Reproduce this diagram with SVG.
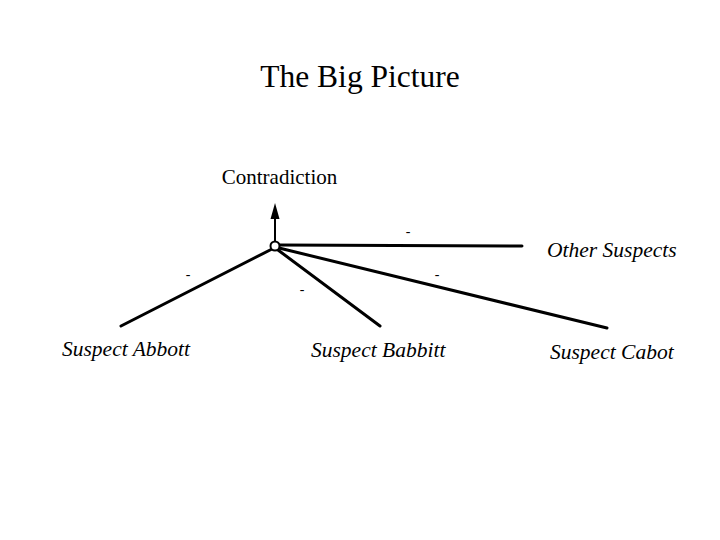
<svg xmlns="http://www.w3.org/2000/svg" width="720" height="540" viewBox="0 0 720 540">
<style>
.t{font-family:"Liberation Serif","Times New Roman",serif;fill:#000}
.lbl{font-family:"Liberation Serif","Times New Roman",serif;font-style:italic;font-size:21.5px;fill:#000}
.e{stroke:#000;stroke-width:3;fill:none;stroke-linecap:round}
.m{font-family:"Liberation Serif",serif;font-size:14px;fill:#000}
</style>
<rect width="720" height="540" fill="#fff"/>
<text class="t" x="360" y="87" font-size="31.5" text-anchor="middle">The Big Picture</text>
<g id="connectors">
<line class="e" x1="279" y1="245" x2="522" y2="246"/>
<line class="e" x1="272" y1="249" x2="121" y2="326"/>
<line class="e" x1="278" y1="250" x2="380" y2="326"/>
<line class="e" x1="279" y1="248" x2="607" y2="328"/>
<line stroke="#000" stroke-width="2" x1="275" y1="242" x2="275" y2="218"/>
<path d="M270.5,219 L275,203 L279.5,219 Z" fill="#000"/>
<text class="m" x="408" y="236" text-anchor="middle">-</text>
<text class="m" x="188" y="279" text-anchor="middle">-</text>
<text class="m" x="302" y="294" text-anchor="middle">-</text>
<text class="m" x="437" y="279" text-anchor="middle">-</text>
</g>
<g id="hub">
<circle cx="275" cy="246" r="4.5" fill="#fff" stroke="#000" stroke-width="2"/>
</g>
<g id="contradiction">
<text class="t" x="279.5" y="184" font-size="21" text-anchor="middle">Contradiction</text>
</g>
<g id="other">
<text class="lbl" x="547" y="257">Other Suspects</text>
</g>
<g id="abbott">
<text class="lbl" x="62" y="356">Suspect Abbott</text>
</g>
<g id="babbitt">
<text class="lbl" x="311" y="357">Suspect Babbitt</text>
</g>
<g id="cabot">
<text class="lbl" x="550" y="359">Suspect Cabot</text>
</g>
</svg>
